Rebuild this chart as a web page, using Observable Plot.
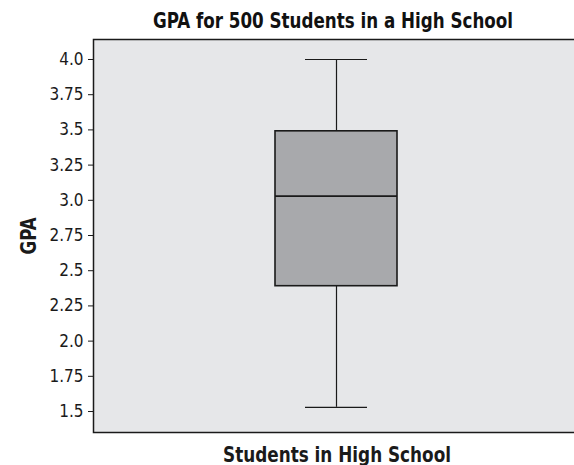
<!DOCTYPE html>
<html>
<head>
<meta charset="utf-8">
<script src="https://cdn.jsdelivr.net/npm/d3@7"></script>
<script src="https://cdn.jsdelivr.net/npm/@observablehq/plot@0.6"></script>
<style>
  html, body { margin: 0; padding: 0; background: #fff; overflow: hidden; width: 574px; }
  #title {
    position: relative; width: 574px; height: 36px; overflow: visible;
    font-family: "Liberation Sans Narrow", "DejaVu Sans Condensed", sans-serif;
    font-weight: bold; font-size: 22px; color: #111;
  }
  #title span {
    position: absolute; left: 333px; top: 21px; white-space: nowrap;
    transform-origin: 0 0; line-height: 1;
  }
  #chart { width: 574px; height: 429px; overflow: hidden; }
  #chart svg { display: block; max-width: none !important; width: 578px !important; height: 429px !important; }
</style>
</head>
<body>
<div id="title"><span>GPA for 500 Students in a High School</span></div>
<div id="chart"></div>
<script>
const categories = ["Students in High School"];
const minValues = [1.53];
const q1Values = [2.39];
const medianValues = [3.03];
const q3Values = [3.49];
const maxValues = [4.0];
const yTicks = [1.5, 1.75, 2.0, 2.25, 2.5, 2.75, 3.0, 3.25, 3.5, 3.75, 4.0];
const yTickLabels = ["1.5", "1.75", "2.0", "2.25", "2.5", "2.75", "3.0", "3.25", "3.5", "3.75", "4.0"];

const data = categories.map((c, i) => ({
  group: c, min: minValues[i], q1: q1Values[i], median: medianValues[i], q3: q3Values[i], max: maxValues[i]
}));

const font = '"Liberation Sans Narrow", "DejaVu Sans Condensed", sans-serif';
const ink = "#1a1a1a";

const chart = Plot.plot({
  width: 578,
  height: 429,
  marginTop: 3,
  marginBottom: 33,
  marginLeft: 93,
  marginRight: 0,
  style: { fontFamily: font, fontSize: "17px", color: ink, background: "#fff", maxWidth: "none" },
  x: { type: "band", domain: categories, padding: 0 },
  y: { domain: [1.351, 4.142] },
  marks: [
    Plot.frame({ fill: "#e6e7e9" }),
    Plot.ruleX(data, { x: "group", y1: "min", y2: "q1", stroke: ink, strokeWidth: 1.2, dx: 0.5 }),
    Plot.ruleX(data, { x: "group", y1: "q3", y2: "max", stroke: ink, strokeWidth: 1.2, dx: 0.5 }),
    Plot.barY(data, { x: "group", y1: "q1", y2: "q3", fill: "#a8a9ac", stroke: ink, strokeWidth: 1.6, insetLeft: 182, insetRight: 181 }),
    Plot.tickY(data, { x: "group", y: "median", stroke: ink, strokeWidth: 1.6, insetLeft: 182, insetRight: 181 }),
    Plot.tickY(data, { x: "group", y: "min", stroke: ink, strokeWidth: 1.2, insetLeft: 212, insetRight: 211 }),
    Plot.tickY(data, { x: "group", y: "max", stroke: ink, strokeWidth: 1.2, insetLeft: 212, insetRight: 211 }),
    Plot.axisY({
      ticks: yTicks,
      tickFormat: d => yTickLabels[yTicks.indexOf(d)],
      tickSize: 5, tickPadding: 5, stroke: ink, fill: ink,
      label: "GPA", labelAnchor: "center", labelArrow: "none", labelOffset: 73
    }),
    Plot.axisX({
      ticks: [], label: "Students in High School", labelAnchor: "center", labelArrow: "none", labelOffset: 29
    }),
    Plot.frame({ stroke: ink, strokeWidth: 1.5 })
  ]
});
document.getElementById("chart").appendChild(chart);

// bold, condensed axis labels
const yl = chart.querySelector("[aria-label='y-axis label'] text");
if (yl) {
  yl.setAttribute("font-weight", "bold");
  yl.setAttribute("font-size", "22px");
  yl.setAttribute("textLength", "37");
  yl.setAttribute("lengthAdjust", "spacingAndGlyphs");
}
const xl = chart.querySelector("[aria-label='x-axis label'] text");
if (xl) {
  xl.setAttribute("font-weight", "bold");
  xl.setAttribute("font-size", "21px");
  xl.setAttribute("textLength", "228");
  xl.setAttribute("lengthAdjust", "spacingAndGlyphs");
  xl.setAttribute("dx", "1");
}
// condense the title to the reference width, centred over the plot area
const span = document.querySelector("#title span");
const w = span.getBoundingClientRect().width;
const s = 360 / w;
span.style.transform = `translate(${-180}px, -50%) scaleX(${s})`;
span.style.transformOrigin = "0 50%";
</script>
</body>
</html>
